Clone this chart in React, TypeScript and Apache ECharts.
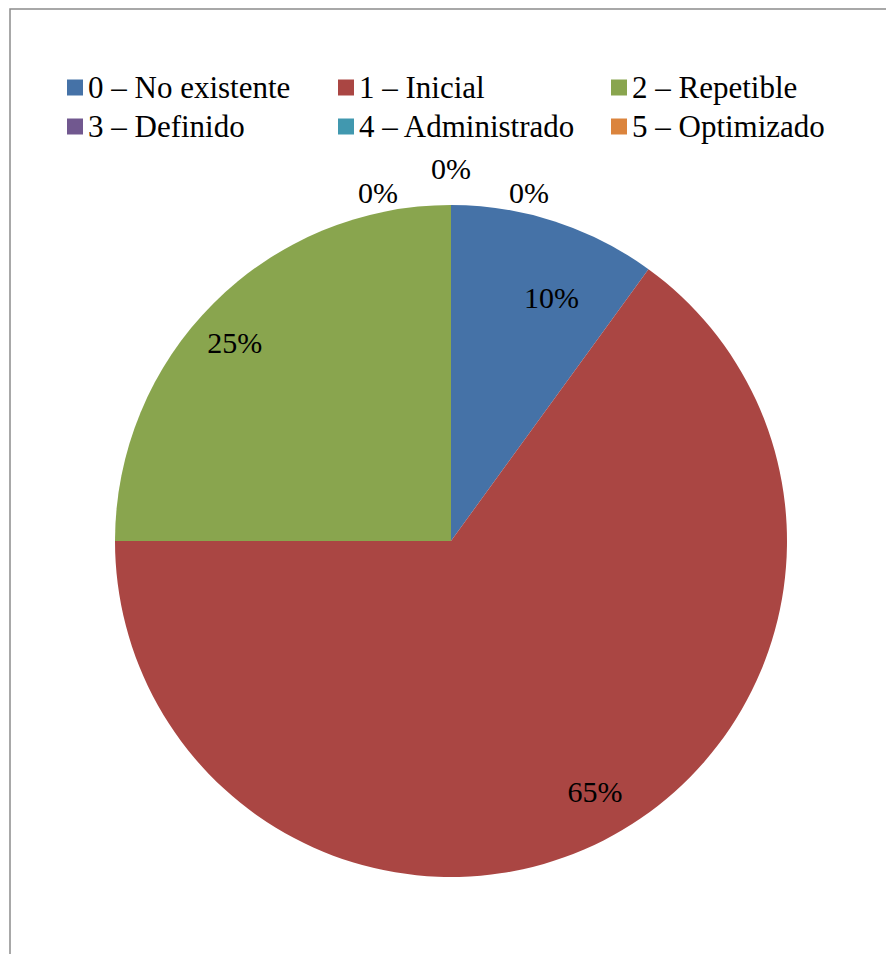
import React, { useEffect, useRef } from "react";
import * as echarts from "echarts";

const categories = [
  "0 – No existente",
  "1 – Inicial",
  "2 – Repetible",
  "3 – Definido",
  "4 – Administrado",
  "5 – Optimizado",
];
const values = [10, 65, 25, 0, 0, 0];
const colors = ["#4572A7", "#AA4643", "#89A54E", "#71588F", "#4198AF", "#DB843D"];

const legendColumns = [
  [categories[0], categories[3]],
  [categories[1], categories[4]],
  [categories[2], categories[5]],
];

const FONT = "Liberation Serif";

export default function App() {
  const ref = useRef<HTMLDivElement>(null);
  useEffect(() => {
    if (!ref.current) return;
    const chart = echarts.init(ref.current, undefined, { renderer: "svg" });
    const center = [451, 541];
    const R = 336;
    const baseData = categories.map((name, i) => ({
      name,
      value: values[i],
      itemStyle: { color: colors[i] },
    }));
    const labelData = (show: (i: number) => boolean) =>
      categories.map((name, i) => ({
        name,
        value: values[i],
        label: { show: show(i) },
      }));
    const labelOffsets: Record<number, number[]> = {
      0: [19, 8],
      1: [11, -11],
      2: [-9, 9],
      3: [78, 9],
      4: [0, -15],
      5: [-73, 9],
    };
    const labelSeriesBase = {
      type: "pie",
      center,
      startAngle: 90,
      clockwise: true,
      silent: true,
      legendHoverLink: false,
      avoidLabelOverlap: false,
      itemStyle: { color: "transparent", borderWidth: 0 },
      emphasis: { disabled: true },
      labelLine: { show: false },
      label: {
        position: "inside",
        formatter: "{c}%",
        color: "#000",
        fontFamily: FONT,
        fontSize: 30,
      },
      labelLayout: (p: any) => {
        const o = labelOffsets[p.dataIndex] || [0, 0];
        return { dx: o[0], dy: o[1] };
      },
    };
    chart.setOption({
      animation: false,
      backgroundColor: "#fff",
      textStyle: { fontFamily: FONT },
      graphic: [
        {
          type: "rect",
          shape: { x: 10, y: 9, width: 1000, height: 1000 },
          style: { fill: "none", stroke: "#8c8c8c", lineWidth: 1.5 },
          silent: true,
        },
      ],
      legend: legendColumns.map((col, k) => ({
        orient: "vertical",
        left: [67, 338, 611][k],
        top: 72,
        padding: 0,
        itemWidth: 16,
        itemHeight: 16,
        itemGap: 8,
        icon: "rect",
        selectedMode: false,
        data: col,
        formatter: "{s|{name}}",
        textStyle: {
          fontFamily: FONT,
          fontSize: 31,
          color: "#000",
          rich: {
            s: {
              fontFamily: FONT,
              fontSize: 31,
              lineHeight: 30,
              color: "#000",
            },
          },
        },
      })),
      series: [
        {
          type: "pie",
          center,
          radius: [0, R],
          startAngle: 90,
          clockwise: true,
          silent: true,
          itemStyle: { borderWidth: 0 },
          emphasis: { disabled: true },
          label: { show: false },
          labelLine: { show: false },
          data: baseData,
        },
        {
          ...labelSeriesBase,
          radius: [186, R],
          data: labelData((i) => i === 0),
        },
        {
          ...labelSeriesBase,
          radius: [244, R],
          data: labelData((i) => i === 1 || i === 2),
        },
        {
          ...labelSeriesBase,
          radius: [R, 374],
          data: labelData((i) => values[i] === 0),
        },
      ],
    });
    return () => chart.dispose();
  }, []);
  return (
    <div
      ref={ref}
      style={{ position: "fixed", left: 0, top: 0, width: 886, height: 954 }}
    />
  );
}
